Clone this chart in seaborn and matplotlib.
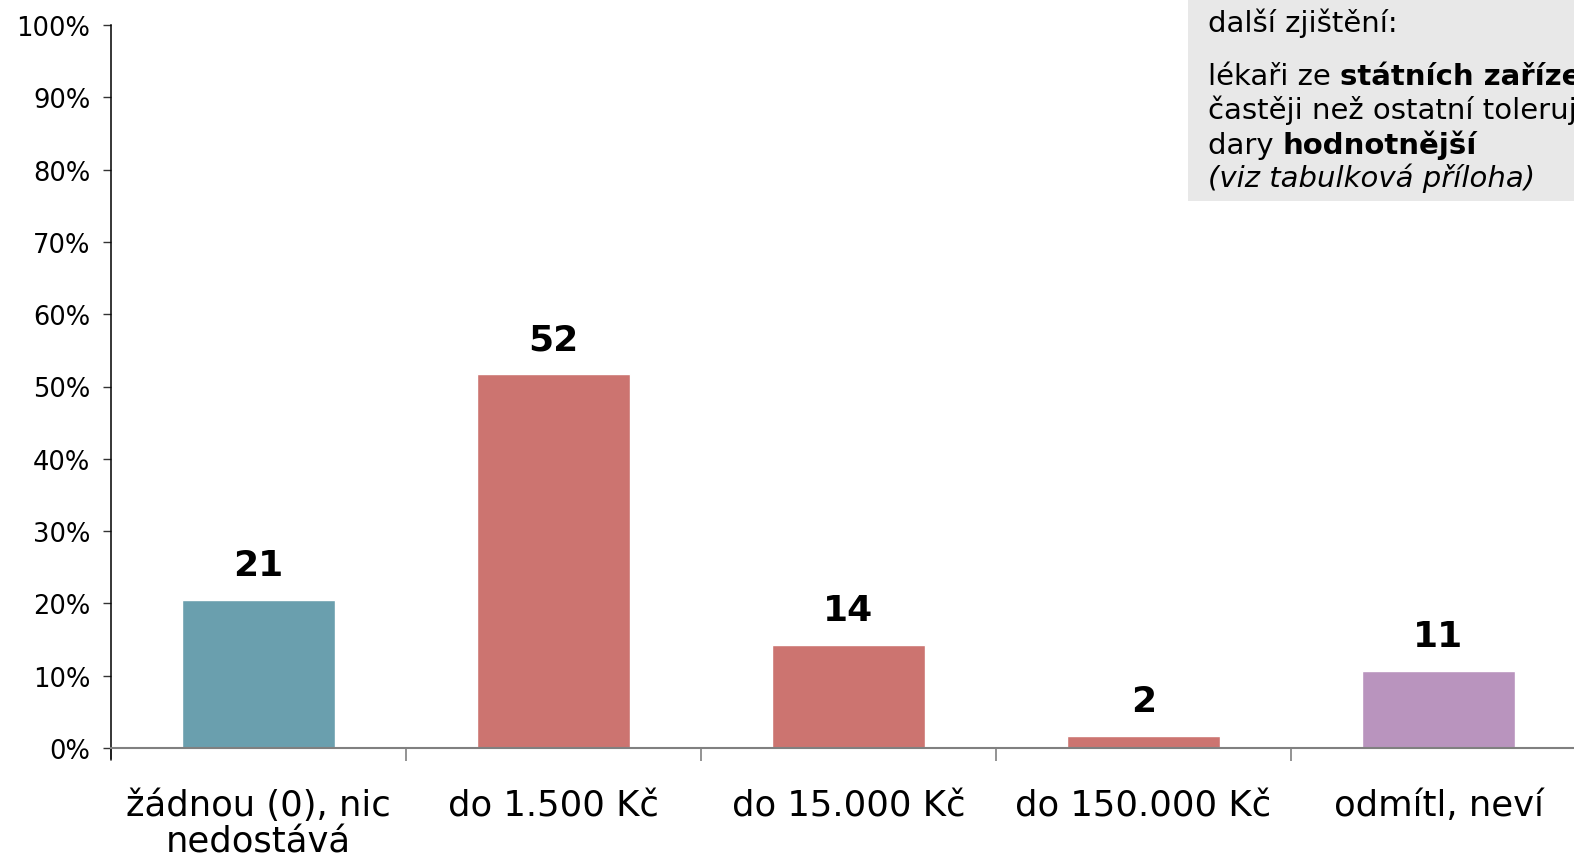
import matplotlib
matplotlib.use("Agg")
import matplotlib.pyplot as plt
import seaborn as sns
import pandas as pd
from matplotlib.patches import Rectangle

kategorie = ["žádnou (0), nic\nnedostává", "do 1.500 Kč", "do 15.000 Kč", "do 150.000 Kč", "odmítl, neví"]
hodnoty = [20.5, 51.7, 14.2, 1.7, 10.6]
popisky = ["21", "52", "14", "2", "11"]
barvy = ["#6a9fae", "#cc7470", "#cc7470", "#cc7470", "#b994be"]

sns.set_style("white")
plt.rcParams["font.family"] = ["DejaVu Sans"]

df = pd.DataFrame({"kat": kategorie, "val": hodnoty})

fig = plt.figure(figsize=(15.74, 8.62), dpi=100)
W, H = 1574, 862
ax = fig.add_axes([111 / W, 113 / H, 1475 / W, 723 / H])

sns.barplot(data=df, x="kat", y="val", hue="kat", palette=barvy, legend=False,
            width=0.52, saturation=1, ax=ax)

ax.set_ylim(0, 100)
ax.set_xlim(-0.5, 4.5)
ax.set_xlabel("")
ax.set_ylabel("")

# popisky hodnot nad sloupci
for i, (v, t) in enumerate(zip(hodnoty, popisky)):
    ax.annotate(t, (i, v), xytext=(0, 13), textcoords="offset points",
                ha="center", va="bottom", fontsize=26, fontweight="bold", color="black")

# osa y
ax.set_yticks(range(0, 101, 10))
ax.set_yticklabels([f"{p}%" for p in range(0, 101, 10)], fontsize=18.5)
ax.tick_params(axis="y", direction="out", length=6, width=1, color="#333333", pad=9,
               left=True, labelcolor="black")

# osa x - carky na hranicich, popisky uprostred
ax.set_xticks([-0.5, 0.5, 1.5, 2.5, 3.5, 4.5])
ax.set_xticklabels([])
ax.tick_params(axis="x", which="major", direction="out", length=9, width=1.2, color="#808080", bottom=True)
ax.set_xticks(range(5), minor=True)
ax.set_xticklabels(kategorie, minor=True, fontsize=25.5, linespacing=1.1)
ax.tick_params(axis="x", which="minor", length=0, pad=29, labelcolor="black")

for s in ["top", "right"]:
    ax.spines[s].set_visible(False)
ax.spines["left"].set_color("black")
ax.spines["left"].set_linewidth(1.1)
ax.spines["left"].set_bounds(-1.5, 100)
ax.spines["bottom"].set_color("#808080")
ax.spines["bottom"].set_linewidth(1.5)

# seda krabice s dalsimi zjistenimi
fig.patches.append(Rectangle((1188 / W, 1 - 202 / H), 1 - 1188 / W, 202 / H,
                             transform=fig.transFigure, facecolor="#e8e8e8", edgecolor="none", zorder=0))

x0 = 1208 / W
fs = 21
radky = [
    (32, [("další zjištění:", "normal", "normal")]),
    (85, [("lékaři ze ", "normal", "normal"), ("státních zařízení", "bold", "normal")]),
    (119, [("častěji než ostatní tolerují", "normal", "normal")]),
    (154, [("dary ", "normal", "normal"), ("hodnotnější", "bold", "normal")]),
    (187, [("(viz tabulková příloha)", "normal", "italic")]),
]
fig.canvas.draw()
r = fig.canvas.get_renderer()
for y, casti in radky:
    x = x0
    for txt, w, st in casti:
        t = fig.text(x, 1 - y / H, txt, fontsize=fs, fontweight=w, fontstyle=st,
                     ha="left", va="baseline", color="black")
        bb = t.get_window_extent(renderer=r)
        x = bb.x1 / W

fig.savefig("out.png", dpi=100)
